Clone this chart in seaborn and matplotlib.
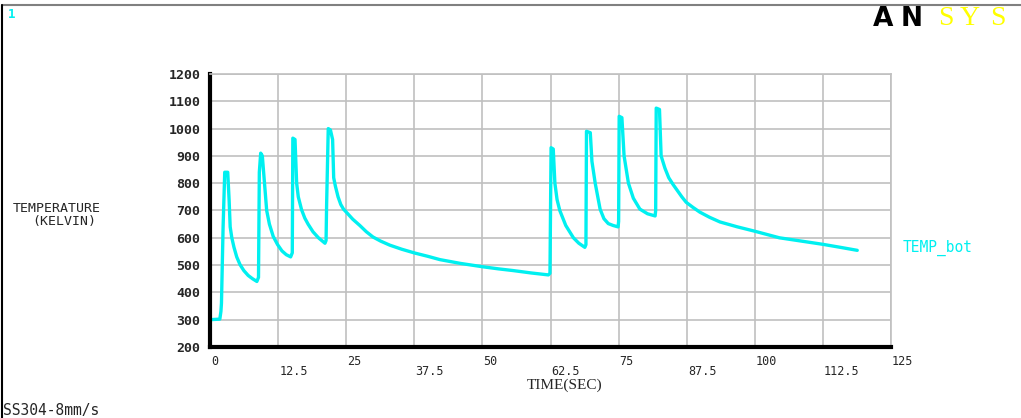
import pandas as pd
import seaborn as sns
import matplotlib.pyplot as plt
from matplotlib.lines import Line2D

# TEMP_bot time history
time_sec = [0, 1.8, 2.0, 2.1, 2.4, 2.7, 3.25, 3.5, 3.7, 4.0, 4.4, 4.9, 5.5, 6.2, 7.0, 7.8, 8.6, 8.9,
            9.05, 9.3, 9.6, 10.0, 10.4, 10.9, 11.6, 12.4, 13.2, 14.0, 14.8, 15.1,
            15.2, 15.6, 15.9, 16.2, 16.8, 17.4, 18.0, 18.9, 19.9, 21.1, 21.3,
            21.4, 21.7, 22.1, 22.5, 22.7, 23.0, 23.5, 24.0, 24.5, 25.1, 26.2, 27.5, 28.7,
            29.9, 31.3, 33.0, 35.2, 37.6, 40.0, 42.2, 46, 50, 53, 55.6, 59, 62.1, 62.4,
            62.6, 63.0, 63.3, 63.7, 64.2, 65.3, 66.7, 67.7, 68.8, 69.0,
            69.1, 69.8, 70.1, 70.7, 71.6, 72.3, 73.1, 74.0, 74.9, 75.0,
            75.1, 75.6, 76.0, 76.8, 77.7, 78.9, 80.3, 81.7, 81.8,
            81.9, 82.5, 82.8, 83.5, 84.2, 85.0, 86.6, 87.4, 88.6, 89.9, 91.7, 93.6,
            96.8, 100, 104.5, 108.5, 112.5, 115.7, 118.8]
temp_k = [300, 302, 330, 360, 640, 840, 840, 740, 640, 600, 565, 530, 502, 480, 462, 450, 440, 455,
          840, 910, 900, 800, 700, 650, 605, 575, 552, 538, 530, 545,
          965, 960, 800, 750, 703, 672, 650, 622, 600, 580, 590,
          720, 1000, 995, 960, 820, 790, 750, 722, 705, 692, 668, 645, 622,
          603, 588, 573, 558, 544, 532, 520, 506, 494, 486, 480, 471, 464, 470,
          930, 925, 800, 740, 700, 645, 600, 580, 565, 575,
          990, 985, 880, 800, 705, 670, 652, 645, 640, 660,
          1045, 1040, 900, 800, 745, 705, 688, 680, 700,
          1075, 1070, 900, 855, 820, 795, 750, 730, 712, 694, 675, 658,
          640, 624, 600, 588, 576, 565, 554]

x_ticks = [0, 12.5, 25, 37.5, 50, 62.5, 75, 87.5, 100, 112.5, 125]
y_ticks = [200, 300, 400, 500, 600, 700, 800, 900, 1000, 1100, 1200]

df = pd.DataFrame({'time': time_sec, 'temp': temp_k})

sns.set_style('white')
cyan = '#00f0f0'
mono = 'DejaVu Sans Mono'
grid_c = '#c0c0c0'

fig = plt.figure(figsize=(10.21, 4.18), dpi=100)
ax = fig.add_axes([0.2057, 0.1699, 0.667, 0.6531])

sns.lineplot(data=df, x='time', y='temp', sort=False, estimator=None,
             color=cyan, linewidth=2.4, ax=ax)

ax.set_xlim(0, 125)
ax.set_ylim(200, 1200)
ax.set_xticks(x_ticks)
ax.set_yticks(y_ticks)
ax.grid(True, color=grid_c, linewidth=1.2)
ax.set_axisbelow(True)
for s in ['top', 'right']:
    ax.spines[s].set_color(grid_c)
    ax.spines[s].set_linewidth(1.2)
for s in ['left', 'bottom']:
    ax.spines[s].set_color('black')
    ax.spines[s].set_linewidth(3)
ax.tick_params(axis='y', length=0, pad=7)
ax.tick_params(axis='x', length=7, width=1.2, color=grid_c, direction='out')

ax.set_yticklabels([str(v) for v in y_ticks], fontfamily=mono,
                   fontweight='bold', fontsize=9.5)
ax.set_xticklabels([])
for i, v in enumerate(x_ticks):
    yoff = -0.055 if i % 2 == 0 else -0.088
    ax.text(v + 0.2, yoff, f'{v:g}', transform=ax.get_xaxis_transform(),
            ha='left', va='center', fontfamily=mono, fontsize=8.5)
ax.set_xlabel('')
ax.set_ylabel('')

fig.text(0.553, 0.079, 'TIME(SEC)', ha='center', va='center',
         fontfamily='Liberation Serif', fontsize=11)
fig.text(0.012, 0.502, 'TEMPERATURE', ha='left', va='center',
         fontfamily=mono, fontsize=9.5)
fig.text(0.032, 0.471, '(KELVIN)', ha='left', va='center',
         fontfamily=mono, fontsize=9.5)
fig.text(0.884, 0.406, 'TEMP_bot', ha='left', va='center',
         fontfamily=mono, fontsize=10.5, color=cyan)
fig.text(0.008, 0.966, '1', ha='left', va='center',
         fontfamily=mono, fontsize=9, color=cyan, fontweight='bold')
fig.text(0.003, 0.018, 'SS304-8mm/s', ha='left', va='center',
         fontfamily=mono, fontsize=10.5)

# ANSYS logo, letters placed one by one to mimic the wide logo
for ch, px in [('A', 873), ('N', 901)]:
    fig.text(px / 1021, 0.955, ch, ha='left', va='center', fontfamily='DejaVu Sans',
             fontweight='heavy', fontsize=19, color='black')
for ch, px in [('S', 938), ('Y', 960), ('S', 990)]:
    fig.text(px / 1021, 0.955, ch, ha='left', va='center', fontfamily='Liberation Serif',
             fontsize=20, color='#ffff00')

fig.add_artist(Line2D([0.002, 1.0], [0.987, 0.987], color='#808080', linewidth=1.5))
fig.add_artist(Line2D([0.002, 0.002], [0.0, 0.987], color='black', linewidth=1.5))

fig.savefig('out.png', dpi=100)
